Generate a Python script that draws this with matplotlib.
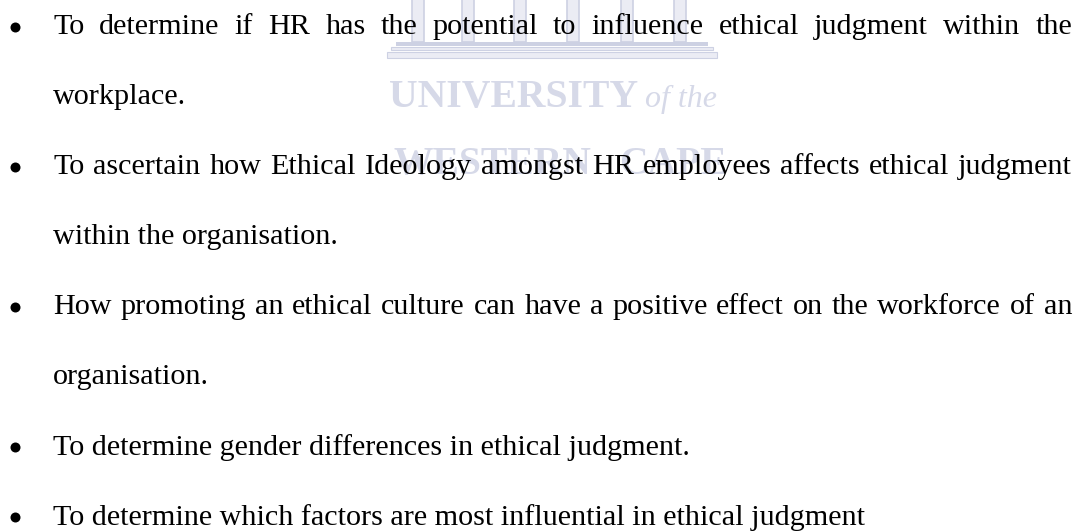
import matplotlib
matplotlib.use("Agg")
import matplotlib.pyplot as plt
from matplotlib.patches import Rectangle
from matplotlib.font_manager import FontProperties

# ---- content ----
lines = [
    "To determine if HR has the potential to influence ethical judgment within the",
    "workplace.",
    "To ascertain how Ethical Ideology amongst HR employees affects ethical judgment",
    "within the organisation.",
    "How promoting an ethical culture can have a positive effect on the workforce of an",
    "organisation.",
    "To determine gender differences in ethical judgment.",
    "To determine which factors are most influential in ethical judgment",
]
has_bullet = [True, False, True, False, True, False, True, True]
justified = [True, False, True, False, True, False, False, False]
watermark_top = "UNIVERSITY"
watermark_of = "of the"
watermark_bottom = ["WESTERN", "CAPE"]

W, H = 1079, 531
fig = plt.figure(figsize=(W / 100, H / 100), dpi=100)
fig.patch.set_facecolor("white")
ax = fig.add_axes([0, 0, 1, 1])
ax.set_xlim(0, W)
ax.set_ylim(H, 0)
ax.axis("off")

renderer = fig.canvas.get_renderer()

fp = FontProperties(family="Liberation Serif", size=21.7)
wm_color = "#d6d9e8"
wm_edge = "#cdd1e3"
wm_fill = "#ebecf4"

# ---- watermark (UWC logo) ----
pillar_x = [412, 462, 514, 567, 621, 674]
for px in pillar_x:
    ax.add_patch(Rectangle((px, -2), 12, 44, facecolor=wm_fill, edgecolor=wm_edge, lw=1.2, zorder=1))
ax.add_patch(Rectangle((396, 42), 312, 4, facecolor=wm_edge, edgecolor="none", zorder=1))
ax.add_patch(Rectangle((391, 47), 322, 3, facecolor=wm_fill, edgecolor=wm_edge, lw=0.8, zorder=1))
ax.add_patch(Rectangle((387, 52), 330, 6, facecolor=wm_fill, edgecolor=wm_edge, lw=0.8, zorder=1))

ax.text(389, 107, watermark_top, fontfamily="Liberation Serif", fontweight="bold",
        fontsize=28.5, color=wm_color, ha="left", va="baseline", zorder=1)
ax.text(645, 107, watermark_of, fontfamily="Liberation Serif", fontstyle="italic",
        fontsize=23, color=wm_color, ha="left", va="baseline", zorder=1)
ax.text(394, 174, watermark_bottom[0], fontfamily="Liberation Serif", fontweight="bold",
        fontsize=28.5, color=wm_color, ha="left", va="baseline", zorder=1)
ax.text(619, 174, watermark_bottom[1], fontfamily="Liberation Serif", fontweight="bold",
        fontsize=28.5, color=wm_color, ha="left", va="baseline", zorder=1)

# ---- body text ----
x_left, x_right = 53, 1072
y0, dy = 34, 70.1


def width_of(s):
    t = ax.text(0, 0, s, fontproperties=fp)
    w = t.get_window_extent(renderer).width
    t.remove()
    return w


for i, s in enumerate(lines):
    y = y0 + i * dy
    if has_bullet[i]:
        ax.plot([15], [y - 7.5], marker="o", markersize=7.2, color="black",
                markeredgewidth=0, linestyle="none", zorder=3)
    if justified[i]:
        words = s.split(" ")
        widths = [width_of(w) for w in words]
        gap = (x_right - x_left - sum(widths)) / (len(words) - 1)
        x = x_left
        for w, wd in zip(words, widths):
            ax.text(x, y, w, fontproperties=fp, ha="left", va="baseline",
                    color="black", zorder=3)
            x += wd + gap
    else:
        ax.text(x_left, y, s, fontproperties=fp, ha="left", va="baseline",
                color="black", zorder=3)

fig.savefig("out.png", dpi=100, facecolor="white")
